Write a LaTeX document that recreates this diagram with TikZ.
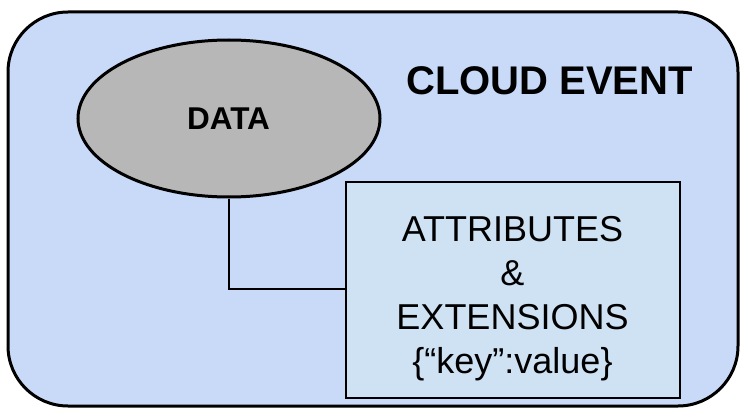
\documentclass[tikz,border=0pt]{standalone}
\usepackage{fontspec}
\setmainfont{Liberation Sans}
\usetikzlibrary{shapes.geometric}
\definecolor{outerblue}{HTML}{C9DAF8}
\definecolor{datagray}{HTML}{B7B7B7}
\definecolor{attrblue}{HTML}{CFE2F3}
\tikzset{
  eventbox/.style={draw=black, line width=3pt, fill=outerblue, rounded corners=60pt},
  dataell/.style={ellipse, draw=black, line width=3pt, fill=datagray, minimum width=302pt, minimum height=157pt, inner sep=0pt},
  attrbox/.style={rectangle, draw=black, line width=2.2pt, fill=attrblue, minimum width=334pt, minimum height=216pt, inner sep=0pt},
  link/.style={draw=black, line width=2.6pt},
  titletext/.style={font=\fontsize{40}{48}\selectfont\bfseries},
  datatext/.style={font=\fontsize{31.5}{36}\selectfont\bfseries},
  attrtext/.style={font=\fontsize{36}{43.7}\selectfont, align=center, inner sep=0pt}
}
\begin{document}
\begin{tikzpicture}[x=1pt,y=-1pt]
\useasboundingbox (0,0) rectangle (748,420);
\draw[eventbox] (8,12) rectangle (738,406);
\node[titletext] (title) at (549.5,81) {CLOUD EVENT};
\node[dataell] (data) at (229,118.5) {};
\node[datatext] (datalbl) at (228.5,118.5) {DATA};
\node[attrbox] (attr) at (513,290) {};
\node[attrtext, anchor=base] (attrlbl) at (512.5,373) {ATTRIBUTES\\\&\\EXTENSIONS\\\{“key”:value\}};
\coordinate (bend) at (data.south |- 0,289);
\draw[link] (data.south) -- (bend) -- (bend -| attr.west);
\end{tikzpicture}
\end{document}
